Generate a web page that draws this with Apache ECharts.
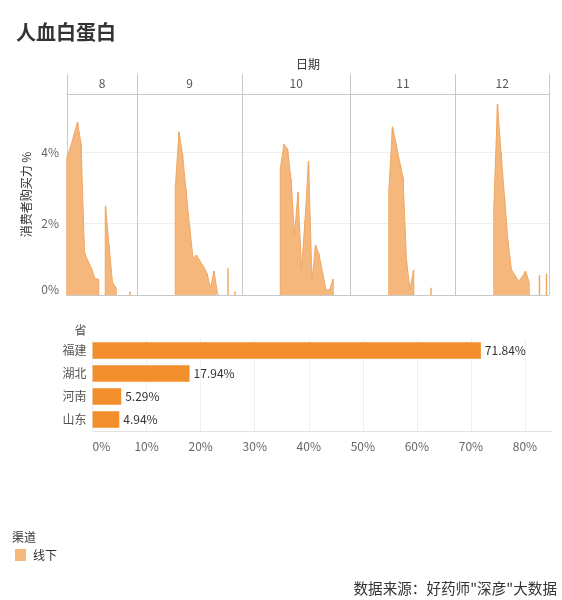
<!DOCTYPE html>
<html><head><meta charset="utf-8">
<script src="https://cdn.jsdelivr.net/npm/echarts@6/dist/echarts.min.js"></script>
<style>html,body{margin:0;padding:0;background:#fff}#c{width:562px;height:600px}</style>
</head><body><div id="c"></div>
<script>
// ---- data ----
const months = ['8', '9', '10', '11', '12'];
const monthFirstDay = [12, 1, 1, 1, 1];
const monthAxisEnd = [32, 31, 32, 31, 27.7];
// consumer purchasing power (%) per day, starting at monthFirstDay
const aug = [3.85, 4.15, 4.5, 4.85, 4.25, 1.2, 0.95, 0.75, 0.45, 0.45, null, 2.5, 1.4, 0.35, 0.2, null, null, null, 0.1, null];
const sep = [null, null, null, null, null, null, null, null, null, null, null, 3.1, 4.58, 3.95, 2.95, 1.95, 1.03, 1.12, 0.95, 0.8, 0.6, 0.2, 0.67, 0.03, null, null, 0.75, null, 0.1, null];
const oct = [null, null, null, null, null, null, null, null, null, null, null, 3.6, 4.23, 4.1, 3.25, 1.68, 2.88, 0.7, 2.1, 3.76, 0.37, 1.4, 1.15, 0.63, 0.14, 0.14, 0.45, null, null, null, null];
const nov = [null, null, null, null, null, null, null, null, null, null, null, 3.0, 4.72, 4.25, 3.75, 3.3, 0.95, 0.15, 0.7, null, null, null, null, 0.2, null, null, null, null, null, null];
const dec = [null, null, null, null, null, null, null, null, null, null, null, 2.6, 5.36, 4.0, 2.75, 1.5, 0.7, 0.55, 0.39, 0.5, 0.67, 0.37, null, null, 0.56, null, 0.6];
const monthValues = [aug, sep, oct, nov, dec];
const yTickLabels = ['0%', '2%', '4%'];
const provinces = ['福建', '湖北', '河南', '山东'];
const provinceShare = [71.84, 17.94, 5.29, 4.94];
const channelName = '线下';

// ---- layout ----
const FONT = "'Noto Sans CJK SC', sans-serif";
const pxPerDay = 3.5;
const panelLeft0 = 67, panelTop = 94, panelHeight = 201;
const yMax = 5.64;
const lineGrey = '#c8c8c8';
const areaFill = '#F5B77B';
const areaLine = '#F0A865';

const grids = [], xAxes = [], yAxes = [], series = [];
let left = panelLeft0;
months.forEach((m, i) => {
  const span = monthAxisEnd[i] - monthFirstDay[i];
  const w = span * pxPerDay;
  grids.push({ left: left, top: panelTop, width: w, height: panelHeight, containLabel: false });
  left += w;
  // bottom value axis (days)
  xAxes.push({
    type: 'value', gridIndex: i, position: 'bottom',
    min: monthFirstDay[i], max: monthAxisEnd[i], interval: span,
    axisLine: { show: true, lineStyle: { color: lineGrey } },
    axisTick: { show: false }, axisLabel: { show: false },
    splitLine: { show: true, lineStyle: { color: lineGrey } }
  });
  // top header axis (month)
  xAxes.push({
    type: 'category', gridIndex: i, position: 'top', data: [m], boundaryGap: true,
    axisLine: { show: true, lineStyle: { color: lineGrey } },
    axisTick: { show: true, length: 20, lineStyle: { color: lineGrey } },
    axisLabel: { color: '#555', fontSize: 12, margin: 5, fontFamily: FONT },
    splitLine: { show: false }
  });
  yAxes.push({
    type: 'value', gridIndex: i, min: 0, max: yMax, interval: 2,
    axisLine: { show: false }, axisTick: { show: false },
    axisLabel: {
      show: i === 0, color: '#666', fontSize: 12, margin: 8, fontFamily: FONT,
      showMaxLabel: false, verticalAlignMinLabel: 'bottom',
      formatter: v => yTickLabels[Math.round(v / 2)] || ''
    },
    splitLine: { show: true, lineStyle: { color: '#efefef' } },
    name: i === 0 ? '消费者购买力 %' : '', nameLocation: 'middle', nameRotate: 90, nameGap: 35,
    nameTextStyle: { color: '#333', fontSize: 12, fontFamily: FONT }
  });
  const pts = monthValues[i].map((v, k) => [monthFirstDay[i] + k, v === null ? '-' : v]);
  series.push({
    name: channelName, type: 'line', xAxisIndex: i * 2, yAxisIndex: i,
    data: pts, showSymbol: false, symbol: 'none', connectNulls: false,
    lineStyle: { color: areaLine, width: 1 }, itemStyle: { color: areaFill },
    areaStyle: { color: areaFill, opacity: 1 }, z: 3
  });
  series.push({
    name: channelName, type: 'bar', xAxisIndex: i * 2, yAxisIndex: i,
    data: pts, barWidth: 1.5, itemStyle: { color: areaLine }, z: 2
  });
});

// bar chart
grids.push({ left: 92.6, top: 339, width: 459.4, height: 92, containLabel: false });
xAxes.push({
  type: 'value', gridIndex: 5, min: 0, max: 85, interval: 10,
  axisLine: { show: true, lineStyle: { color: '#e2e2e2' } }, axisTick: { show: false },
  axisLabel: { formatter: '{value}%', color: '#666', fontSize: 12, margin: 9, showMaxLabel: false, alignMinLabel: 'left', fontFamily: FONT },
  splitLine: { show: true, showMaxLine: false, lineStyle: { color: '#efefef' } }
});
yAxes.push({
  type: 'category', gridIndex: 5, data: provinces, inverse: true,
  axisLine: { show: false }, axisTick: { show: false },
  axisLabel: { color: '#555', fontSize: 12, margin: 6, fontFamily: FONT },
  name: '省', nameLocation: 'start', nameGap: 3,
  nameTextStyle: { color: '#555', fontSize: 12, align: 'right', padding: [0, 6, 0, 0], fontFamily: FONT }
});
series.push({
  name: '省份', type: 'bar', xAxisIndex: 10, yAxisIndex: 5, data: provinceShare, barWidth: 16.5,
  itemStyle: { color: '#F28E2B' },
  label: { show: true, position: 'right', distance: 4, color: '#333', fontSize: 12, fontFamily: FONT,
    formatter: p => p.value.toFixed(2) + '%' }
});

const chart = echarts.init(document.getElementById('c'), null, { renderer: 'canvas' });
chart.setOption({
  animation: false,
  backgroundColor: '#fff',
  textStyle: { fontFamily: FONT },
  title: [
    { text: '人血白蛋白', left: 16, top: 22, padding: 0, textStyle: { fontSize: 20, fontWeight: 'bold', color: '#333', fontFamily: FONT } },
    { text: '日期', left: 296, top: 58, padding: 0, textStyle: { fontSize: 12, fontWeight: 'normal', color: '#333', fontFamily: FONT } },
    { text: '渠道', left: 12, top: 531, padding: 0, textStyle: { fontSize: 12, fontWeight: 'normal', color: '#333', fontFamily: FONT } },
    { text: '数据来源：好药师"深彦"大数据', right: 5, top: 581, padding: 0, textStyle: { fontSize: 14.6, fontWeight: 'normal', color: '#333', fontFamily: FONT } }
  ],
  legend: {
    left: 15, top: 549, padding: 0, itemWidth: 11, itemHeight: 12, icon: 'rect', selectedMode: false,
    data: [{ name: channelName, itemStyle: { color: areaFill } }],
    textStyle: { color: '#333', fontSize: 12, padding: [0, 0, 0, 2], fontFamily: FONT }
  },
  grid: grids,
  xAxis: xAxes,
  yAxis: yAxes,
  series: series
});
</script>
</body></html>
